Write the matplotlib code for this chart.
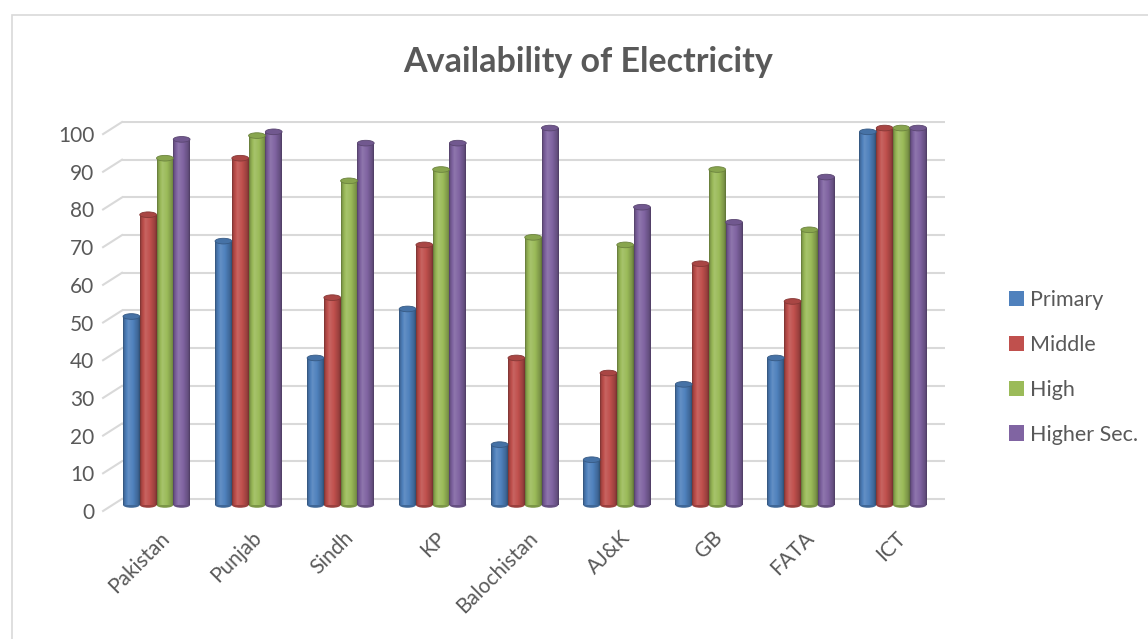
import matplotlib.pyplot as plt
import numpy as np
from matplotlib.patches import Ellipse, Patch, Rectangle
from matplotlib.colors import to_rgb

categories = ["Pakistan", "Punjab", "Sindh", "KP", "Balochistan", "AJ&K", "GB", "FATA", "ICT"]
series_names = ["Primary", "Middle", "High", "Higher Sec."]
primary = [50, 70, 39, 52, 16, 12, 32, 39, 99]
middle = [77, 92, 55, 69, 39, 35, 64, 54, 100]
high = [92, 98, 86, 89, 71, 69, 89, 73, 100]
higher_sec = [97, 99, 96, 96, 100, 79, 75, 87, 100]
y_ticks = [0, 10, 20, 30, 40, 50, 60, 70, 80, 90, 100]

colors = ["#4F81BD", "#C0504D", "#9BBB59", "#8064A2"]
text_col = "#595959"
grid_col = "#D9D9D9"
plt.rcParams["font.family"] = ["Lato", "DejaVu Sans"]


def shade(c, f):
    c = np.array(to_rgb(c))
    if f >= 1:
        return c + (1 - c) * (f - 1)
    return c * f


def cylinder_gradient(c, n=64):
    t = np.linspace(0, 1, n)
    prof = np.interp(t, [0, 0.08, 0.32, 0.6, 0.9, 1], [0.62, 0.85, 1.12, 1.0, 0.78, 0.6])
    return np.array([[shade(c, f) for f in prof]])


fig = plt.figure(figsize=(11.48, 6.39), dpi=100)
ax = fig.add_axes([122 / 1148, 0.198, (945 - 122) / 1148, 0.6134])

data = [primary, middle, high, higher_sec]
x = np.arange(len(categories))
w = 0.182
d = 1.6  # 3d depth offset (in value units)
cap_h = 1.5

for i, (vals, col) in enumerate(zip(data, colors)):
    pos = x + (i - 1.5) * w
    bars = ax.bar(pos, vals, width=w, color=col, zorder=3, linewidth=0)
    grad = cylinder_gradient(col)
    for rect, v in zip(bars, vals):
        x0 = rect.get_x()
        im = ax.imshow(grad, extent=[x0, x0 + w, 0, v], aspect="auto", zorder=3.5,
                       interpolation="bilinear")
        im.set_clip_path(rect)
        ax.add_patch(Ellipse((x0 + w / 2, 0), w, cap_h, facecolor=shade(col, 0.8),
                             edgecolor="none", zorder=3.2))
        ax.add_patch(Ellipse((x0 + w / 2, v), w, cap_h, facecolor=shade(col, 0.88),
                             edgecolor=shade(col, 0.7), linewidth=0.6, zorder=4))

# back wall gridlines with slanted floor edges
for v in y_ticks:
    ax.axhline(v + d, color=grid_col, linewidth=1.5, zorder=1)
    ax.plot([-0.023, 0], [v - d, v + d], transform=ax.get_yaxis_transform(),
            color=grid_col, linewidth=1.5, clip_on=False, zorder=1)

ax.set_xlim(-0.375, 8.565)
ax.set_ylim(-2, 102)
ax.set_yticks([v - d for v in y_ticks])
ax.set_yticklabels([str(v) for v in y_ticks])
ax.set_xticks(x + 0.03)
ax.set_xticklabels(categories, rotation=45, ha="right", va="top", rotation_mode="anchor")
ax.tick_params(axis="y", length=0, pad=20, labelsize=15, labelcolor=text_col)
ax.tick_params(axis="x", length=0, pad=11, labelsize=15, labelcolor=text_col)
for s in ax.spines.values():
    s.set_visible(False)

fig.text(0.512, 0.903, "Availability of Electricity", ha="center", va="center",
         fontsize=24.5, fontweight="bold", color=text_col)

handles = [Patch(facecolor=c, edgecolor="none") for c in colors]
leg = fig.legend(handles, series_names, loc="center left", bbox_to_anchor=(0.862, 0.425),
                 frameon=False, fontsize=15.5, handlelength=0.7, handleheight=0.7,
                 handletextpad=0.3, labelspacing=1.15)
for t in leg.get_texts():
    t.set_color(text_col)

fig.patches.append(Rectangle((12 / 1148, -0.01), 1.2, 0.9765 + 0.01, transform=fig.transFigure,
                             fill=False, edgecolor=grid_col, linewidth=1.2))

fig.savefig("out.png", dpi=100)
